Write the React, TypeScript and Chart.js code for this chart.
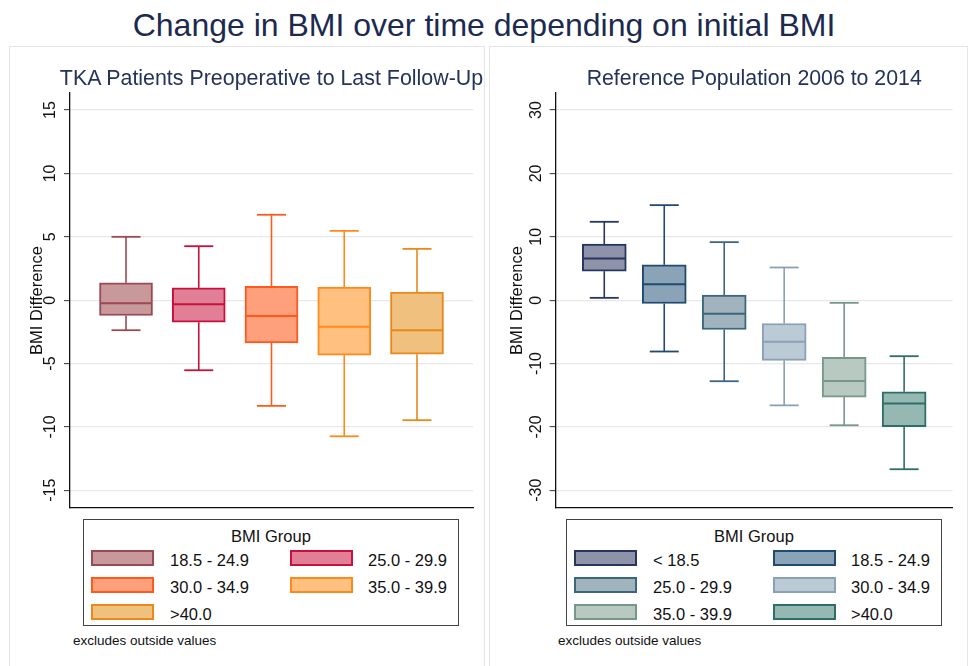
import React, { useEffect, useRef } from "react";
import { Chart, registerables } from "chart.js";

Chart.register(...registerables);

// ---------- Data ----------
const tkaGroups = ["18.5 - 24.9", "25.0 - 29.9", "30.0 - 34.9", "35.0 - 39.9", ">40.0"];
const tkaLowerWhisker = [-2.37, -5.53, -8.34, -10.74, -9.47];
const tkaQ1 = [-1.21, -1.74, -3.37, -4.34, -4.26];
const tkaMedian = [-0.24, -0.32, -1.24, -2.1, -2.37];
const tkaQ3 = [1.37, 0.97, 1.1, 1.03, 0.63];
const tkaUpperWhisker = [5.0, 4.26, 6.74, 5.47, 4.05];
const tkaFills = ["#c8989b", "#e07f96", "#ffa07c", "#ffc080", "#f0c07f"];
const tkaStrokes = ["#9a4a52", "#c8103c", "#ff5a1c", "#ff8a1a", "#e8891a"];
const tkaTicks = [-15, -10, -5, 0, 5, 10, 15];

const refGroups = ["< 18.5", "18.5 - 24.9", "25.0 - 29.9", "30.0 - 34.9", "35.0 - 39.9", ">40.0"];
const refLowerWhisker = [0.37, -8.1, -12.79, -16.6, -19.74, -26.68];
const refQ1 = [4.58, -0.53, -4.63, -9.5, -15.3, -19.95];
const refMedian = [6.58, 2.53, -2.16, -6.58, -12.74, -16.32];
const refQ3 = [8.84, 5.58, 0.79, -3.68, -9.0, -14.47];
const refUpperWhisker = [12.37, 15.0, 9.16, 5.16, -0.42, -8.84];
const refFills = ["#8f93a9", "#8ba3b7", "#a1b3bd", "#bccad6", "#b7c9c0", "#96b8b2"];
const refStrokes = ["#283560", "#1f4a72", "#3b6680", "#8aa0b6", "#77978a", "#2f6e66"];
const refTicks = [-30, -20, -10, 0, 10, 20, 30];

const mainTitle = "Change in BMI over time depending on initial BMI";
const tkaTitle = "TKA Patients Preoperative to Last Follow-Up";
const refTitle = "Reference Population 2006 to 2014";
const yAxisTitle = "BMI Difference";
const legendTitle = "BMI Group";
const noteText = "excludes outside values";

const FONT = "'Liberation Sans', Arial, Helvetica, sans-serif";

type PanelSpec = {
  groups: string[];
  low: number[];
  q1: number[];
  med: number[];
  q3: number[];
  high: number[];
  fills: string[];
  strokes: string[];
  ticks: number[];
  yMin: number;
  yMax: number;
  xMin: number;
  xMax: number;
  barThickness: number;
  left: number;
  top: number;
  width: number;
  height: number;
  axisWidth: number;
  padRight: number;
};

function makeWhiskerPlugin(spec: PanelSpec) {
  return {
    id: "boxWhiskers",
    afterDatasetsDraw(chart: any) {
      const ctx: CanvasRenderingContext2D = chart.ctx;
      const xs = chart.scales.x;
      const ys = chart.scales.y;
      const meta = chart.getDatasetMeta(0);
      const cap = 29;
      ctx.save();
      ctx.lineCap = "butt";
      const line = (x1: number, y1: number, x2: number, y2: number) => {
        ctx.beginPath();
        ctx.moveTo(x1, y1);
        ctx.lineTo(x2, y2);
        ctx.stroke();
      };
      spec.groups.forEach((_, i) => {
        const el = meta.data[i];
        const cx = xs.getPixelForValue(i + 1);
        const half = el.width / 2;
        const yHigh = ys.getPixelForValue(spec.high[i]);
        const yQ3 = ys.getPixelForValue(spec.q3[i]);
        const yQ1 = ys.getPixelForValue(spec.q1[i]);
        const yLow = ys.getPixelForValue(spec.low[i]);
        const yMed = ys.getPixelForValue(spec.med[i]);
        ctx.strokeStyle = spec.strokes[i];
        ctx.lineWidth = 1.6;
        line(cx, yQ3, cx, yHigh);
        line(cx, yQ1, cx, yLow);
        ctx.lineWidth = 1.8;
        line(cx - cap / 2, yHigh, cx + cap / 2, yHigh);
        line(cx - cap / 2, yLow, cx + cap / 2, yLow);
        ctx.lineWidth = 2;
        line(cx - half + 1, yMed, cx + half - 1, yMed);
      });
      ctx.restore();
    },
  };
}

function BoxPanel({ spec }: { spec: PanelSpec }) {
  const ref = useRef<HTMLCanvasElement | null>(null);
  useEffect(() => {
    if (!ref.current) return;
    const chart = new Chart(ref.current, {
      type: "bar",
      data: {
        datasets: [
          {
            data: spec.groups.map((_, i) => ({ x: i + 1, y: [spec.q1[i], spec.q3[i]] })) as any,
            backgroundColor: spec.fills,
            borderColor: spec.strokes,
            borderWidth: 2,
            borderSkipped: false,
            barThickness: spec.barThickness,
          },
        ],
      },
      options: {
        animation: false,
        responsive: false,
        events: [],
        layout: { padding: { left: 0, right: spec.padRight, top: 45, bottom: 0 } },
        plugins: {
          legend: { display: false },
          tooltip: { enabled: false },
          title: { display: false },
        },
        scales: {
          x: {
            type: "linear",
            min: spec.xMin,
            max: spec.xMax,
            offset: false,
            ticks: { display: false, stepSize: 1, includeBounds: false } as any,
            grid: { display: false, drawTicks: false },
            border: { display: true, color: "#111", width: 1.3 },
            afterFit: (s: any) => {
              s.height = 10;
              s.paddingLeft = 0;
              s.paddingRight = 0;
            },
          },
          y: {
            type: "linear",
            min: spec.yMin,
            max: spec.yMax,
            afterBuildTicks: (s: any) => {
              s.ticks = spec.ticks.map((v) => ({ value: v }));
            },
            ticks: {
              minRotation: 90,
              maxRotation: 90,
              crossAlign: "center",
              padding: 1.4,
              color: "#111",
              font: { family: FONT, size: 16 },
              callback: (v: any) => String(v),
            },
            grid: {
              color: "#e8e8e8",
              lineWidth: 1.3,
              drawTicks: true,
              tickLength: 6,
              tickColor: "#333",
              tickWidth: 1,
            },
            border: { display: true, color: "#111", width: 1.3 },
            title: {
              display: true,
              text: yAxisTitle,
              color: "#111",
              font: { family: FONT, size: 16.5, lineHeight: 1.2 },
              padding: { top: 17.1, bottom: 0 },
            },
            afterFit: (s: any) => {
              s.width = spec.axisWidth;
              s.paddingTop = 0;
              s.paddingBottom = 0;
            },
          },
        },
      },
      plugins: [makeWhiskerPlugin(spec)],
    });
    return () => chart.destroy();
  }, [spec]);
  return (
    <canvas
      ref={ref}
      width={spec.width}
      height={spec.height}
      style={{ position: "absolute", left: spec.left, top: spec.top, width: spec.width, height: spec.height, display: "block" }}
    />
  );
}

function Legend({ left, groups, fills, strokes }: { left: number; groups: string[]; fills: string[]; strokes: string[] }) {
  const top = 519;
  const colSwatch = [7, 206];
  const colLabel = [86, 284];
  const rowTop = [31, 58, 85];
  return (
    <div
      style={{
        position: "absolute",
        left,
        top,
        width: 376,
        height: 107,
        boxSizing: "border-box",
        border: "1.2px solid #444",
      }}
    >
      <div
        style={{
          position: "absolute",
          left: 0,
          width: "100%",
          top: 6,
          textAlign: "center",
          fontSize: 16.5,
          lineHeight: "20px",
          color: "#111",
        }}
      >
        {legendTitle}
      </div>
      {groups.map((g, i) => {
        const c = i % 2;
        const r = Math.floor(i / 2);
        return (
          <React.Fragment key={g + i}>
            <div
              style={{
                position: "absolute",
                left: colSwatch[c],
                top: rowTop[r] - 1,
                width: 63,
                height: 16,
                boxSizing: "border-box",
                background: fills[i],
                border: `2px solid ${strokes[i]}`,
              }}
            />
            <div
              style={{
                position: "absolute",
                left: colLabel[c],
                top: rowTop[r] - 1,
                fontSize: 16.5,
                lineHeight: "20px",
                color: "#111",
                whiteSpace: "nowrap",
              }}
            >
              {g}
            </div>
          </React.Fragment>
        );
      })}
    </div>
  );
}

function SubTitle({ text, center, top, size }: { text: string; center: number; top: number; size: number }) {
  return (
    <div
      style={{
        position: "absolute",
        left: center - 300,
        width: 600,
        top,
        textAlign: "center",
        fontSize: size,
        lineHeight: "26px",
        color: "#24335a",
        whiteSpace: "nowrap",
      }}
    >
      {text}
    </div>
  );
}

const leftSpec: PanelSpec = {
  groups: tkaGroups,
  low: tkaLowerWhisker,
  q1: tkaQ1,
  med: tkaMedian,
  q3: tkaQ3,
  high: tkaUpperWhisker,
  fills: tkaFills,
  strokes: tkaStrokes,
  ticks: tkaTicks,
  yMin: -16.4,
  yMax: 16.35,
  xMin: 0.23,
  xMax: 5.77,
  barThickness: 53,
  left: 10,
  top: 48,
  width: 472,
  height: 470,
  axisWidth: 60,
  padRight: 9,
};

const rightSpec: PanelSpec = {
  groups: refGroups,
  low: refLowerWhisker,
  q1: refQ1,
  med: refMedian,
  q3: refQ3,
  high: refUpperWhisker,
  fills: refFills,
  strokes: refStrokes,
  ticks: refTicks,
  yMin: -32.8,
  yMax: 32.7,
  xMin: 0.19,
  xMax: 6.81,
  barThickness: 44,
  left: 490,
  top: 48,
  width: 475,
  height: 470,
  axisWidth: 65.7,
  padRight: 12.3,
};

export default function App() {
  return (
    <div
      style={{
        position: "fixed",
        left: 0,
        top: 0,
        width: 968,
        height: 666,
        background: "#fff",
        overflow: "hidden",
        fontFamily: FONT,
      }}
    >
      <div
        style={{
          position: "absolute",
          left: 0,
          top: 9,
          width: 968,
          textAlign: "center",
          fontSize: 32,
          lineHeight: "32px",
          color: "#1c2a50",
          whiteSpace: "nowrap",
        }}
      >
        {mainTitle}
      </div>
      <div style={{ position: "absolute", left: 9, top: 46, width: 474, height: 660, border: "1px solid #e6e6e6" }} />
      <div style={{ position: "absolute", left: 489, top: 46, width: 477, height: 660, border: "1px solid #e6e6e6" }} />
      <BoxPanel spec={leftSpec} />
      <BoxPanel spec={rightSpec} />
      <SubTitle text={tkaTitle} center={271.5} top={64.5} size={21.4} />
      <SubTitle text={refTitle} center={754.2} top={64.8} size={21.3} />
      <Legend left={83} groups={tkaGroups} fills={tkaFills} strokes={tkaStrokes} />
      <Legend left={566} groups={refGroups} fills={refFills} strokes={refStrokes} />
      <div style={{ position: "absolute", left: 73, top: 632, fontSize: 13.5, lineHeight: "18px", color: "#111" }}>
        {noteText}
      </div>
      <div style={{ position: "absolute", left: 558, top: 632, fontSize: 13.5, lineHeight: "18px", color: "#111" }}>
        {noteText}
      </div>
    </div>
  );
}
